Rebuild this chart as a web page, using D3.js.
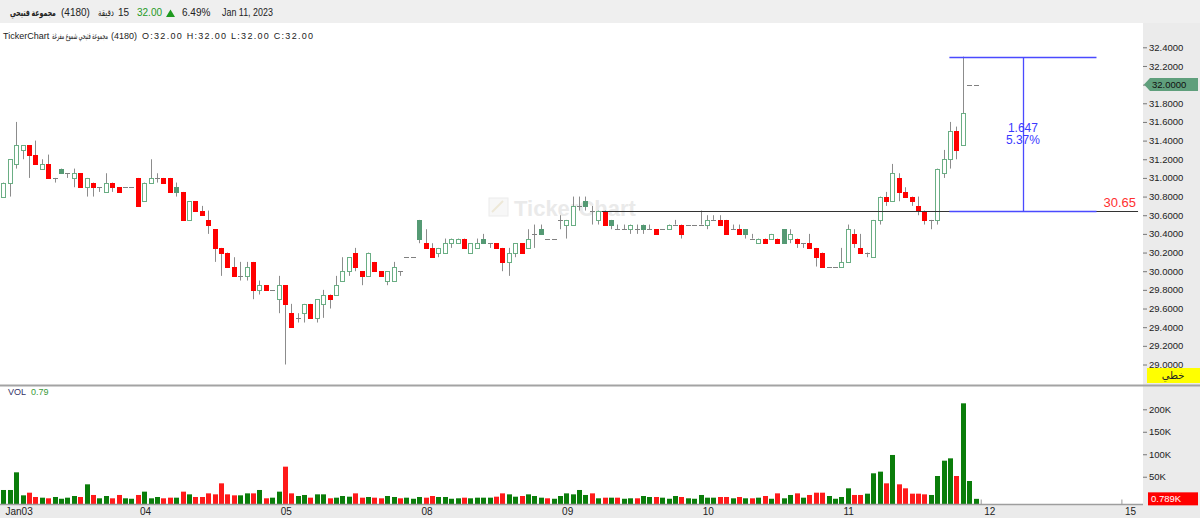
<!DOCTYPE html>
<html><head><meta charset="utf-8">
<script src="https://cdn.jsdelivr.net/npm/d3@7/dist/d3.min.js"></script>
<style>
html,body{margin:0;padding:0;background:#fff;}
svg{display:block;}
text{font-family:"Liberation Sans",Arial,"DejaVu Sans",sans-serif;}
</style></head><body>
<svg id="chart" width="1200" height="518"></svg>
<script>
// ---------------- DATA ----------------
const dayLabels = ["Jan03","04","05","08","09","10","11","12","15"];
const slotsPerDay = 22;
const priceTicks = [29.0,29.2,29.4,29.6,29.8,30.0,30.2,30.4,30.6,30.8,31.0,31.2,31.4,31.6,31.8,32.0,32.2,32.4];
const volumeTicks = [50,100,150,200];

const open = [
30.80,30.95,31.15,31.30,31.35,31.25,31.10,31.15,31.00,31.10,31.05,31.00,31.05,30.90,30.95,30.90,30.85,30.95,30.90,30.90,30.90,31.00,
30.75,30.95,31.00,31.00,31.00,30.90,30.85,30.55,30.75,30.65,30.55,30.45,30.25,30.20,30.05,29.95,29.95,30.10,29.80,29.85,29.80,29.70,
29.85,29.55,29.50,29.55,29.65,29.50,29.65,29.75,29.75,29.90,30.00,30.20,30.00,29.95,30.10,30.00,29.90,29.90,30.00,30.15,30.15,30.55,
30.30,30.25,30.20,30.20,30.30,30.30,30.35,30.20,30.25,30.35,30.30,30.30,30.25,30.10,30.20,30.30,30.25,30.40,30.45,30.35,30.35,30.55,
30.50,30.50,30.70,30.75,30.65,30.55,30.65,30.55,30.45,30.45,30.45,30.45,30.50,30.45,30.45,30.45,30.45,30.50,30.50,30.50,30.50,30.50,
30.50,30.55,30.55,30.55,30.45,30.45,30.45,30.35,30.30,30.35,30.35,30.35,30.45,30.35,30.35,30.30,30.30,30.25,30.20,30.05,30.05,30.05,
30.10,30.40,30.25,30.20,30.15,30.55,30.80,30.75,31.00,30.85,30.80,30.70,30.65,30.55,30.55,31.05,31.20,31.50,31.35,32.00,32.00];
const high = [
30.95,31.20,31.60,31.35,31.35,31.40,31.20,31.25,31.00,31.10,31.05,31.10,31.05,31.00,30.95,30.90,31.05,30.95,30.90,30.90,30.90,31.00,
30.95,31.20,31.05,31.00,31.00,30.95,30.85,30.75,30.75,30.70,30.65,30.45,30.25,30.20,30.15,30.10,30.10,30.10,29.90,29.85,29.80,29.95,
29.85,29.65,29.55,29.65,29.65,29.70,29.80,29.75,29.95,30.15,30.15,30.25,30.00,30.20,30.10,30.00,30.00,30.10,30.00,30.15,30.15,30.55,
30.45,30.30,30.25,30.35,30.35,30.35,30.35,30.30,30.35,30.40,30.30,30.30,30.25,30.25,30.30,30.30,30.45,30.50,30.50,30.35,30.35,30.60,
30.55,30.80,30.80,30.80,30.70,30.65,30.65,30.55,30.50,30.50,30.50,30.50,30.50,30.50,30.45,30.45,30.50,30.55,30.50,30.50,30.50,30.65,
30.60,30.60,30.60,30.55,30.50,30.50,30.45,30.40,30.35,30.35,30.40,30.35,30.45,30.45,30.35,30.30,30.40,30.25,30.20,30.05,30.05,30.25,
30.50,30.45,30.40,30.20,30.55,30.80,30.85,31.15,31.05,30.90,30.80,30.80,30.65,30.55,31.10,31.30,31.60,31.55,32.30,32.00,32.00];
const low = [
30.80,30.80,31.10,31.20,31.00,31.15,31.10,31.00,30.95,31.05,31.00,30.90,30.90,30.80,30.80,30.85,30.85,30.85,30.85,30.90,30.90,30.70,
30.75,30.95,30.95,30.95,30.85,30.80,30.55,30.55,30.65,30.60,30.40,30.10,29.95,30.05,29.95,29.90,29.90,29.70,29.75,29.80,29.80,29.55,
29.00,29.40,29.45,29.45,29.50,29.45,29.50,29.60,29.75,29.90,29.95,30.00,29.85,29.95,30.00,29.95,29.85,29.90,29.95,30.15,30.15,30.30,
30.25,30.15,30.15,30.20,30.25,30.30,30.25,30.20,30.25,30.30,30.25,30.25,30.00,29.95,30.15,30.20,30.25,30.25,30.40,30.35,30.35,30.45,
30.35,30.50,30.65,30.65,30.50,30.50,30.50,30.45,30.45,30.45,30.40,30.40,30.40,30.45,30.40,30.45,30.45,30.50,30.35,30.50,30.50,30.50,
30.45,30.55,30.50,30.40,30.45,30.40,30.35,30.35,30.30,30.30,30.35,30.30,30.30,30.30,30.25,30.25,30.25,30.05,30.05,30.05,30.05,30.05,
30.10,30.25,30.20,30.15,30.15,30.50,30.70,30.75,30.75,30.80,30.70,30.60,30.50,30.45,30.50,31.00,31.10,31.20,31.35,32.00,32.00];
const close = [
30.95,31.20,31.35,31.35,31.25,31.15,31.15,31.00,31.00,31.05,31.05,31.05,30.90,31.00,30.90,30.90,30.95,30.90,30.85,30.90,30.90,30.70,
30.95,31.00,31.00,30.95,30.85,30.85,30.55,30.75,30.65,30.60,30.50,30.25,30.20,30.05,29.95,29.95,30.05,29.80,29.85,29.80,29.80,29.85,
29.65,29.40,29.50,29.65,29.50,29.70,29.75,29.70,29.85,30.00,30.15,30.05,29.95,30.20,30.00,29.95,30.00,30.05,30.00,30.15,30.15,30.35,
30.25,30.15,30.25,30.30,30.35,30.35,30.25,30.30,30.30,30.30,30.30,30.25,30.10,30.20,30.30,30.20,30.35,30.40,30.40,30.35,30.35,30.55,
30.55,30.70,30.70,30.70,30.65,30.65,30.50,30.50,30.45,30.45,30.50,30.45,30.45,30.45,30.40,30.45,30.50,30.50,30.40,30.50,30.50,30.50,
30.55,30.55,30.50,30.40,30.45,30.40,30.40,30.35,30.35,30.30,30.40,30.30,30.30,30.40,30.30,30.30,30.25,30.15,30.05,30.05,30.05,30.10,
30.45,30.30,30.20,30.20,30.55,30.80,30.75,31.05,30.85,30.80,30.75,30.65,30.55,30.55,31.10,31.20,31.50,31.30,31.70,32.00,32.00];
const volumeK = [
20.5,20.5,59.8,8.6,14.5,4.9,3.4,2.0,4.9,1.0,3.4,7.1,4.9,33.1,9.4,2.0,7.1,2.0,9.4,2.0,1.0,9.4,
16.8,2.0,4.9,2.0,3.4,3.4,16.8,10.8,4.9,4.9,13.0,10.8,35.3,10.8,8.6,8.6,13.0,13.0,20.5,2.0,3.4,16.8,
72.4,13.0,7.1,9.4,3.4,10.8,10.8,2.0,3.4,7.1,5.6,13.0,3.4,4.9,3.4,2.0,7.1,4.9,2.0,3.4,1.0,4.9,
3.4,7.1,4.9,4.9,1.0,2.0,3.4,2.0,3.4,3.4,3.4,5.6,13.0,10.8,5.6,7.1,10.8,7.1,3.4,2.0,1.0,7.1,
13.0,10.8,20.5,9.4,13.0,2.0,3.4,3.4,3.4,1.0,2.0,2.0,7.1,4.9,4.9,3.4,1.0,7.1,4.9,2.0,1.0,9.4,
3.4,3.4,4.9,4.9,2.0,4.9,2.0,2.0,3.4,7.1,1.0,13.0,2.0,9.4,13.0,3.4,9.4,14.5,14.5,7.1,1.0,4.9,
24.2,9.4,9.4,12.3,57.6,61.3,35.3,98.4,33.1,24.2,12.3,12.3,10.8,9.4,51.6,85.7,90.9,51.6,213.3,40.5,0.789];

// drawings
const supportLine = {price:30.646, label:"30.65", fromSlot:94, toSlot:177.9};
const measure = {top:32.293, bottom:30.646, fromSlot:148.4, toSlot:171.4};

// header texts
const hdrName = "مجموعة فتيحي";
const hdrCode = "(4180)";
const hdrInterval = "15";
const hdrUnit = "دقيقة";
const hdrPrice = "32.00";
const hdrChange = "6.49%";
const hdrDate = "Jan 11, 2023";
const infoBrand = "TickerChart";
const infoName = "مجموعة فتيحي شموع مفرغة";
const infoOHLC = "O:32.00 H:32.00 L:32.00 C:32.00";
const volLabel = "VOL", volValue = "0.79", lastVolLabel = "0.789K";
const lastPriceLabel = "32.0000";
const chartTypeLabel = "خطي";

// ---------------- LAYOUT ----------------
const W = 1200, H = 518, PR = 1143;
const pTop = 24, pBot = 384, vTop = 387, vBot = 504;
const svg = d3.select("#chart");

const nSlots = dayLabels.length * slotsPerDay;
const x = d3.scaleLinear().domain([0, nSlots]).range([0.3, 0.3 + dayLabels.length * 140.7]);
const cx = i => x(i + 0.5);
const y = d3.scaleLinear().domain([29.0, 32.4]).range([364.5, 47.3]);
const yv = d3.scaleLinear().domain([0, 200]).range([499.2, 409.3]);

const defs = svg.append("defs");
defs.append("clipPath").attr("id","clipP").append("rect").attr("x",0).attr("y",pTop).attr("width",PR).attr("height",pBot-pTop);
defs.append("clipPath").attr("id","clipV").append("rect").attr("x",0).attr("y",vTop).attr("width",PR).attr("height",vBot-vTop);

// backgrounds
svg.append("rect").attr("width",W).attr("height",H).attr("fill","#fff");
svg.append("rect").attr("x",0).attr("y",0).attr("width",W).attr("height",23).attr("fill","#efefef");
svg.append("rect").attr("x",PR).attr("y",23).attr("width",W-PR).attr("height",H-23).attr("fill","#ebebeb");
svg.append("rect").attr("x",0).attr("y",vBot+1).attr("width",PR).attr("height",H-vBot-1).attr("fill","#ebebeb");

// text helper: place a text so that it starts at x0 and spans a given width (horizontal condensing)
function fitText(g, str, x0, yb, width, attrs) {
  const t = g.append("text").attr("x",0).attr("y",yb).text(str);
  Object.entries(attrs||{}).forEach(([k,v])=>t.attr(k,v));
  const nat = t.node().getComputedTextLength();
  const s = Math.min(1, width / nat);
  t.attr("transform",`translate(${x0},0) scale(${s},1)`);
  return t;
}

// header line
const hy = 16;
const ht = svg.append("g").attr("font-size",10).attr("fill","#222");
fitText(ht, hdrName, 10, hy, 46, {"font-weight":"bold"});
ht.append("text").attr("x",61).attr("y",hy).text(hdrCode);
fitText(ht, hdrUnit, 98, hy, 16);
ht.append("text").attr("x",118).attr("y",hy).text(hdrInterval);
ht.append("text").attr("x",137).attr("y",hy).attr("fill","#1f9a1f").text(hdrPrice);
ht.append("path").attr("d","M166,17 L170.5,9.5 L175,17 Z").attr("fill","#1f9a1f");
ht.append("text").attr("x",182).attr("y",hy).text(hdrChange);
fitText(ht, hdrDate, 222, hy, 51);

// info line
const it = svg.append("g").attr("font-size",9).attr("fill","#222");
it.append("text").attr("x",3).attr("y",39).text(infoBrand);
fitText(it, infoName, 52, 39, 56);
fitText(it, hdrCode, 111, 39, 26);
it.append("text").attr("x",142).attr("y",39).attr("textLength",171).attr("lengthAdjust","spacing").text(infoOHLC);

// watermark
const wm = svg.append("g").attr("opacity",0.55);
wm.append("rect").attr("x",489).attr("y",198).attr("width",19).attr("height",18).attr("fill","#f1f1f1").attr("stroke","#dcdcdc");
wm.append("path").attr("d","M492,212 L503,201").attr("stroke","#e0d6b8").attr("stroke-width",2);
wm.append("text").attr("x",514).attr("y",216).attr("font-size",22).attr("font-weight","bold").attr("fill","#d9d9d9").text("TickerChart");

// candles
const data = open.map((o,i)=>({i, o, h:high[i], l:low[i], c:close[i], v:volumeK[i], pc: i>0 ? close[i-1] : o}));
const eps = 1e-6;
const hollowGreen = "#6aae84", fillGreen = "#559a74", red = "#ff0000", wickCol = "#8c8c8c";

const gP = svg.append("g").attr("clip-path","url(#clipP)");
gP.selectAll("line.wick").data(data.filter(d=>d.h-d.l>eps)).join("line").attr("class","wick")
  .attr("x1",d=>Math.round(cx(d.i))+0.5).attr("x2",d=>Math.round(cx(d.i))+0.5)
  .attr("y1",d=>y(d.h)).attr("y2",d=>y(d.l)).attr("stroke",wickCol).attr("stroke-width",1);
gP.selectAll("line.doji").data(data.filter(d=>Math.abs(d.c-d.o)<eps)).join("line").attr("class","doji")
  .attr("x1",d=>Math.round(cx(d.i))-2).attr("x2",d=>Math.round(cx(d.i))+3)
  .attr("y1",d=>Math.round(y(d.c))+0.5).attr("y2",d=>Math.round(y(d.c))+0.5)
  .attr("stroke","#808080").attr("stroke-width",1);
gP.selectAll("rect.up").data(data.filter(d=>d.c-d.o>eps)).join("rect").attr("class","up")
  .attr("x",d=>Math.round(cx(d.i))-2+0.5).attr("width",4)
  .attr("y",d=>Math.round(y(d.c))+0.5).attr("height",d=>Math.max(1,Math.round(y(d.o))-Math.round(y(d.c))))
  .attr("fill","#fff").attr("stroke",hollowGreen).attr("stroke-width",1);
gP.selectAll("rect.dn").data(data.filter(d=>d.o-d.c>eps)).join("rect").attr("class","dn")
  .attr("x",d=>Math.round(cx(d.i))-2).attr("width",5)
  .attr("y",d=>Math.round(y(d.o))).attr("height",d=>Math.max(1,Math.round(y(d.c))-Math.round(y(d.o))+1))
  .attr("fill",d=> d.c < d.pc-eps ? red : fillGreen);

// support line & label
gP.append("line").attr("x1",x(supportLine.fromSlot)).attr("x2",x(supportLine.toSlot))
  .attr("y1",Math.round(y(supportLine.price))+0.5).attr("y2",Math.round(y(supportLine.price))+0.5)
  .attr("stroke","#333").attr("stroke-width",1);
gP.append("text").attr("x",x(supportLine.toSlot)-2).attr("y",y(supportLine.price)-4).attr("text-anchor","end")
  .attr("font-size",13).attr("fill","#ff3030").text(supportLine.label);

// measure tool
const blue = "#4a4aff";
const mx1 = x(measure.fromSlot), mx2 = x(measure.toSlot), mxm = (mx1+mx2)/2;
const myT = Math.round(y(measure.top))+0.5, myB = Math.round(y(measure.bottom))+0.5;
gP.append("line").attr("x1",mx1).attr("x2",mx2).attr("y1",myT).attr("y2",myT).attr("stroke",blue).attr("stroke-width",1.3);
gP.append("line").attr("x1",mx1).attr("x2",mx2).attr("y1",myB).attr("y2",myB).attr("stroke",blue).attr("stroke-width",1.3);
gP.append("line").attr("x1",Math.round(mxm)+0.5).attr("x2",Math.round(mxm)+0.5).attr("y1",myT).attr("y2",myB).attr("stroke",blue).attr("stroke-width",1.3);
const diff = measure.top - measure.bottom;
const midY = (myT+myB)/2;
gP.append("text").attr("x",mxm).attr("y",midY-3).attr("text-anchor","middle").attr("font-size",12).attr("fill","#3a3aff").text(d3.format(".3f")(diff));
gP.append("text").attr("x",mxm).attr("y",midY+9).attr("text-anchor","middle").attr("font-size",12).attr("fill","#3a3aff").text((diff/measure.bottom*100).toFixed(2)+"%");

// price axis (last price label replaces its tick label)
const lastClose = close[close.length-1];
const styleAxis = g => {
  g.select(".domain").remove();
  g.selectAll(".tick line").attr("stroke","#777");
  g.selectAll(".tick text").attr("fill","#222").attr("font-size",9.5).attr("font-family","'Liberation Sans',Arial,sans-serif");
};
svg.append("g").attr("transform",`translate(${PR},0)`)
  .call(d3.axisRight(y).tickValues(priceTicks).tickFormat(d => Math.abs(d-lastClose)<eps ? "" : d3.format(".4f")(d)).tickSize(4).tickPadding(2))
  .call(styleAxis);

// last price box
const lpY = y(lastClose);
svg.append("path").attr("d",`M${PR+1},${lpY} L${PR+7},${lpY-6.5} L${W-2},${lpY-6.5} L${W-2},${lpY+6.5} L${PR+7},${lpY+6.5} Z`).attr("fill","#5f9f7c");
svg.append("text").attr("x",PR+9).attr("y",lpY+3.5).attr("font-size",9.5).attr("fill","#111").text(lastPriceLabel);

// chart type box
svg.append("rect").attr("x",1147).attr("y",368).attr("width",53).attr("height",15).attr("fill","#ffff00");
svg.append("text").attr("x",1173).attr("y",379).attr("text-anchor","middle").attr("font-size",10).attr("fill","#222").text(chartTypeLabel);

// pane separator
svg.append("rect").attr("x",0).attr("y",pBot+0.5).attr("width",W).attr("height",2).attr("fill","#a3a3a3");

// volume label
svg.append("text").attr("x",8).attr("y",395).attr("font-size",9).attr("fill","#333366").text(volLabel);
svg.append("text").attr("x",31).attr("y",395).attr("font-size",9).attr("fill","#3a9a3a").text(volValue);

// time axis
const dayScale = d3.scaleLinear().domain([0, dayLabels.length]).range([x(0)-4.5, x(nSlots)-4.5]);
const xAxisG = svg.append("g").attr("transform",`translate(0,${vBot+0.5})`)
  .call(d3.axisBottom(dayScale).tickValues(d3.range(dayLabels.length)).tickFormat(i=>dayLabels[i]).tickSizeInner(-5).tickSizeOuter(0).tickPadding(3));
xAxisG.select(".domain").remove();
xAxisG.selectAll(".tick line").attr("stroke","#999");
xAxisG.selectAll(".tick text").attr("text-anchor","start").attr("x",(d)=> Math.max(3, 5-dayScale(d)))
  .attr("fill","#222").attr("font-size",10).attr("font-family","'Liberation Sans',Arial,sans-serif");

// volume bars
const gV = svg.append("g").attr("clip-path","url(#clipV)");
gV.selectAll("rect").data(data).join("rect")
  .attr("x",d=>Math.round(cx(d.i))-2).attr("width",5)
  .attr("y",d=>yv(d.v)).attr("height",d=>vBot-yv(d.v))
  .attr("fill",d=> d.c >= d.pc-eps ? "#0a7d0a" : "#ff1a1a");

svg.append("line").attr("x1",0).attr("x2",PR).attr("y1",vBot+0.5).attr("y2",vBot+0.5).attr("stroke","#9e9e9e").attr("stroke-width",1.5);

// volume axis
svg.append("g").attr("transform",`translate(${PR},0)`)
  .call(d3.axisRight(yv).tickValues(volumeTicks).tickFormat(d=>d+"K").tickSize(4).tickPadding(2))
  .call(styleAxis);
const lvY = yv(volumeK[volumeK.length-1]);
svg.append("rect").attr("x",1148).attr("y",lvY-6.5).attr("width",50).attr("height",13).attr("fill","#ff0000");
svg.append("text").attr("x",1151).attr("y",lvY+3.5).attr("font-size",9.5).attr("fill","#fff").text(lastVolLabel);
</script>
</body></html>
